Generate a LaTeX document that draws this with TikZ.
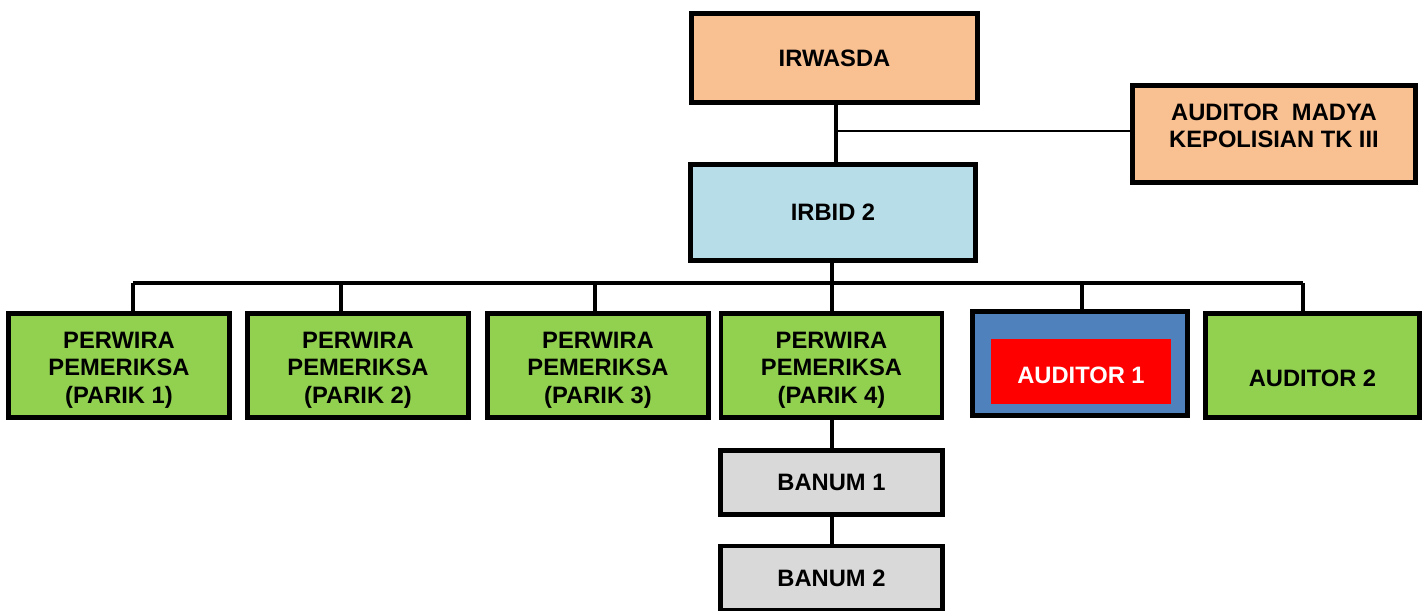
\documentclass[tikz,border=0pt]{standalone}
\usepackage{fontspec}
\setmainfont{Liberation Sans}
\usepackage{tikz}

\definecolor{orgtan}{HTML}{F9C091}
\definecolor{orgblue}{HTML}{B7DEE8}
\definecolor{orggreen}{HTML}{92D050}
\definecolor{orgsteel}{HTML}{4F81BD}
\definecolor{orggray}{HTML}{D9D9D9}

\tikzset{
    unit/.style={draw, line width=2.8pt, align=center, inner sep=0pt,
        font=\fontsize{13.5}{15.4}\selectfont\bfseries},
    parik/.style={unit, fill=orggreen, minimum width=4.42cm, minimum height=2.08cm,
        text height=42.7pt, text depth=0pt},
    banum/.style={unit, fill=orggray, minimum width=4.44cm, minimum height=1.28cm},
    link/.style={line width=2.4pt},
}

\begin{document}
\begin{tikzpicture}[x=0.02cm, y=-0.02cm]
    % Frame of the page
    \useasboundingbox (0,0) rectangle (1428,610);

    % Top level
    \node[unit, fill=orgtan, minimum width=5.72cm, minimum height=1.78cm] (irwasda) at (834.5,58) {IRWASDA};
    \node[unit, fill=orgtan, minimum width=5.66cm, minimum height=1.94cm,
        text height=15.5pt, text depth=0pt] (madya) at (1274,134)
        {AUDITOR~~MADYA\\KEPOLISIAN TK III};
    \node[unit, fill=orgblue, minimum width=5.70cm, minimum height=1.92cm] (irbid) at (833,212.5) {IRBID 2};

    % Second level
    \node[parik] (p1) at (119,365.5) {PERWIRA\\PEMERIKSA\\(PARIK 1)};
    \node[parik] (p2) at (358,365.5) {PERWIRA\\PEMERIKSA\\(PARIK 2)};
    \node[parik] (p3) at (598,365.5) {PERWIRA\\PEMERIKSA\\(PARIK 3)};
    \node[parik] (p4) at (831.5,365.5) {PERWIRA\\PEMERIKSA\\(PARIK 4)};
    \node[unit, fill=orgsteel, minimum width=4.30cm, minimum height=2.08cm] (a1) at (1080,363.5) {};
    \node[fill=red, text=white, minimum width=3.60cm, minimum height=1.30cm, inner sep=0pt,
        text height=14.1pt, text depth=0pt,
        font=\fontsize{13.5}{15.4}\selectfont\bfseries] (a1in) at (1081,371.5) {AUDITOR 1};
    \node[parik, minimum width=4.28cm, text height=24pt, text depth=0pt] (a2) at (1312.5,365.5) {AUDITOR 2};

    % Third level
    \node[banum] (b1) at (831.5,482.5) {BANUM 1};
    \node[banum] (b2) at (831.5,578) {BANUM 2};

    % Vertical line and staff link
    \draw[line width=2.8pt] (irwasda.south -| 836,0) -- (irbid.north -| 836,0);
    \coordinate (staff) at (836,131);
    \draw[line width=1pt] (staff) -- (madya.west |- staff);

    % Bus to the second level
    \coordinate (bus) at (832,283);
    \draw[link] (irbid.south -| bus) -- (bus);
    \draw[link] (133,283) -- (1303,283);
    \foreach \n/\xs in {p1/133, p2/341, p3/595, p4/832, a1/1082, a2/1303} {
        \draw[link] (\xs,283) -- (\n.north -| \xs,0);
    }

    % Banum chain
    \draw[link] (p4.south -| bus) -- (b1.north -| bus);
    \draw[link] (b1.south -| bus) -- (b2.north -| bus);
\end{tikzpicture}
\end{document}
